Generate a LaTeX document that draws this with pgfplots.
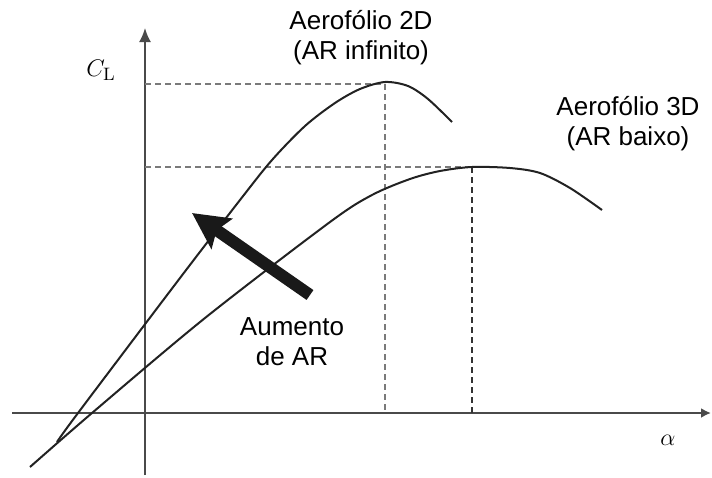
\documentclass[border=0pt]{standalone}
\usepackage{pgfplots}
\pgfplotsset{compat=1.18}
\usepackage[no-math]{fontspec}
\setmainfont{Liberation Sans}
\usetikzlibrary{arrows.meta}
\definecolor{curve}{HTML}{222222}
\definecolor{axisc}{HTML}{4A4A4A}
\definecolor{dashc}{HTML}{7A7A7A}
\begin{document}
\begin{tikzpicture}
\begin{axis}[
  scale only axis, width=356pt, height=238.5pt,
  xmin=0, xmax=712, ymin=0, ymax=477, y dir=reverse,
  hide axis, clip=false,
]
\path (axis cs:0,0) rectangle (axis cs:712,477);
% axes
\addplot[axisc, line width=1pt, -{Latex[length=7pt,width=6pt]}] coordinates {(145,475) (145,28)};
\addplot[axisc, line width=1pt, -{Latex[length=5pt,width=5pt]}] coordinates {(12,413) (711,413)};
% dashed guides
\addplot[dashc, line width=0.9pt, dash pattern=on 3pt off 2pt] coordinates {(145,84) (385,84)};
\addplot[dashc, line width=0.9pt, dash pattern=on 3pt off 2pt] coordinates {(385,84) (385,413)};
\addplot[dashc, line width=0.9pt, dash pattern=on 3pt off 2pt] coordinates {(145,167) (472,167)};
\addplot[black!80, line width=0.9pt, dash pattern=on 3pt off 2pt] coordinates {(472,167) (472,413)};
% 2D curve
\addplot[curve, line width=1pt, smooth, tension=0.5] coordinates {
 (57,442) (78,413) (180,278) (240,200) (272,160) (305,126) (335,103) (360,89) (385,82) (408,86) (428,99) (452,122)};
% 3D curve
\addplot[curve, line width=1pt, smooth, tension=0.5] coordinates {
 (30,467) (92,413) (205,318) (330,222) (372,195) (410,179) (440,171) (472,167) (510,168) (540,173) (570,188) (602,210)};
% big arrow
\addplot[black!90, line width=6pt, -{Stealth[length=18pt,width=18pt,inset=3pt]}] coordinates {(310,295) (192,213)};
% labels
\node[font=\fontsize{13}{15}\selectfont, align=center] at (axis cs:361,38) {Aerofólio 2D\\(AR infinito)};
\node[font=\fontsize{13}{15}\selectfont, align=center] at (axis cs:628,124) {Aerofólio 3D\\(AR baixo)};
\node[font=\fontsize{13}{15}\selectfont, align=center] at (axis cs:292,342) {Aumento\\de AR};
\node[font=\fontsize{13}{15}\selectfont] at (axis cs:101,70) {$C_{\mathrm{L}}$};
\node[font=\fontsize{13}{15}\selectfont] at (axis cs:668,440) {$\alpha$};
\end{axis}
\end{tikzpicture}
\end{document}
